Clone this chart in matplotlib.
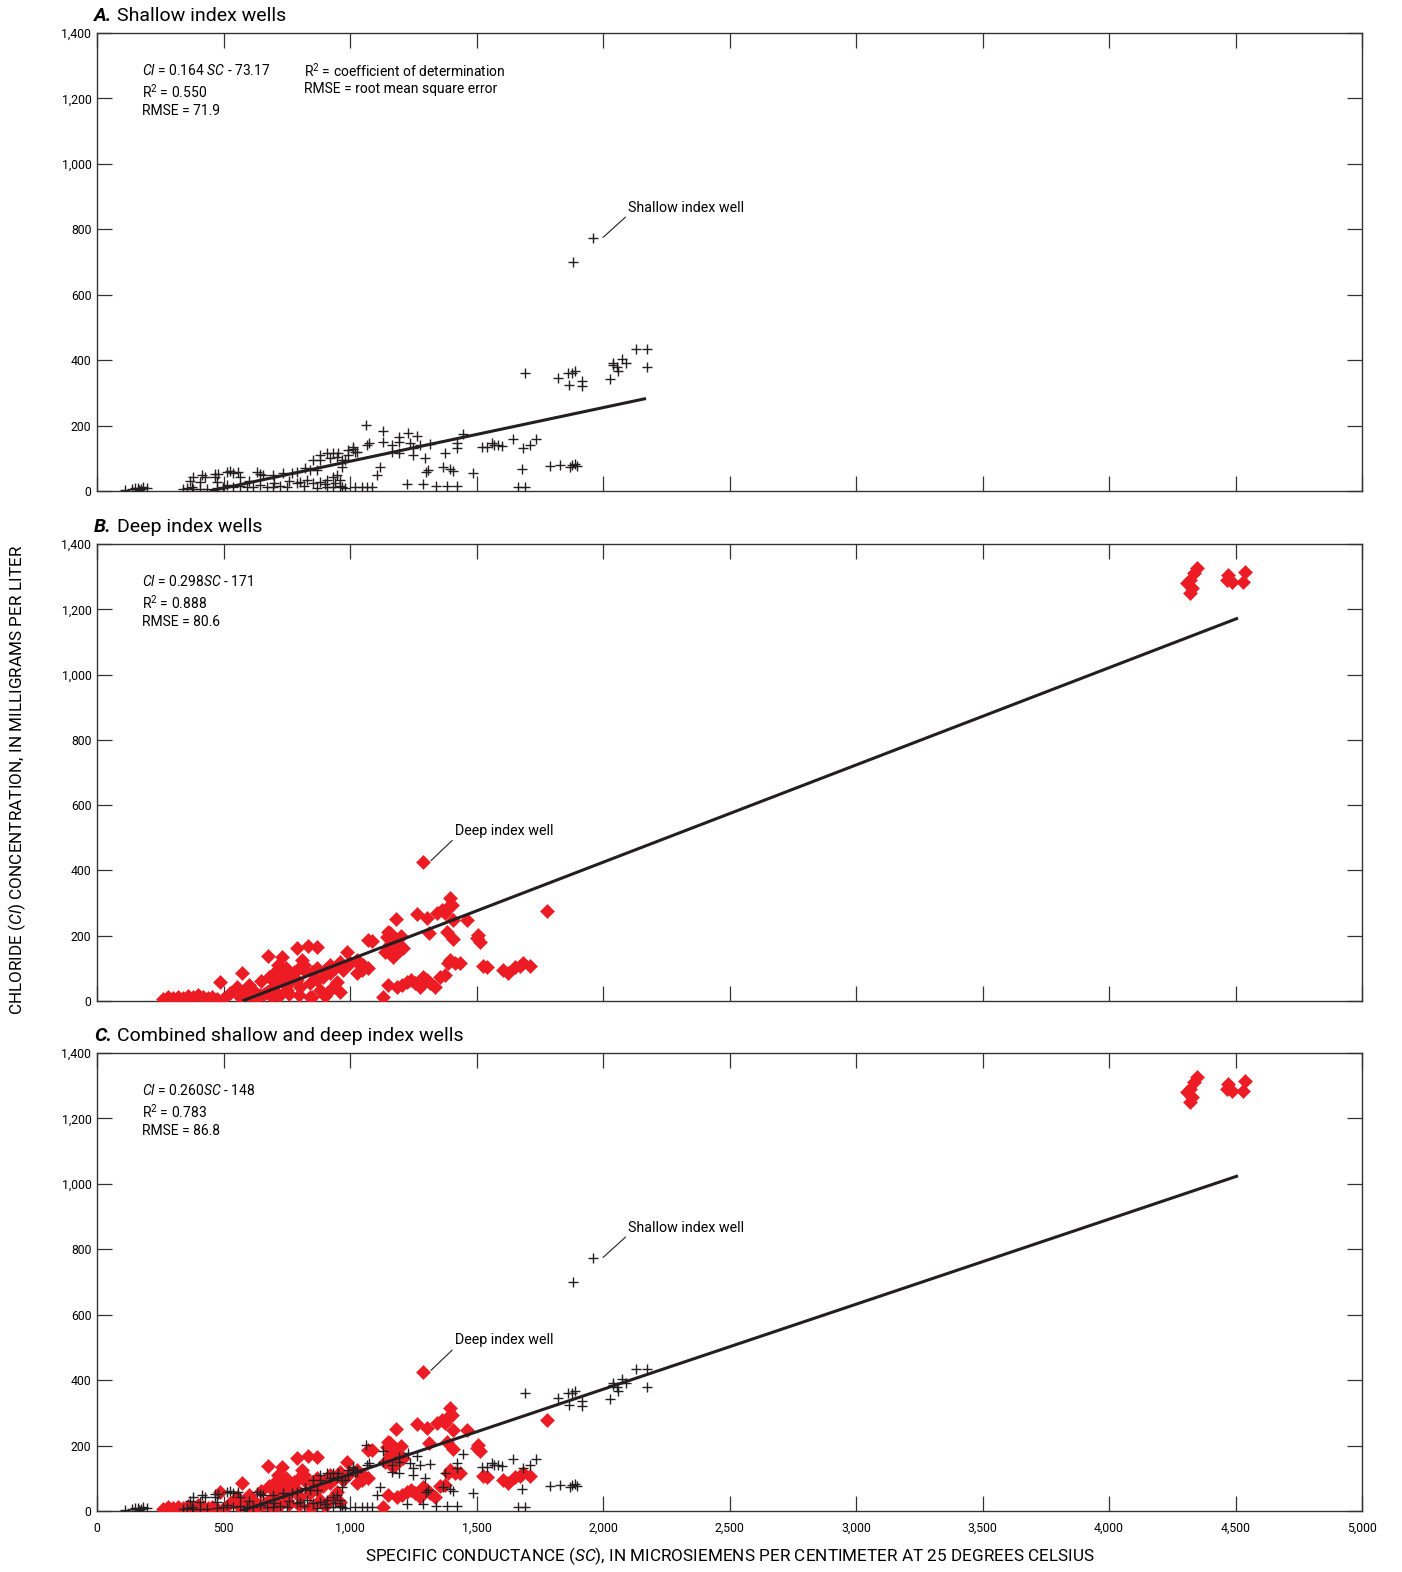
import matplotlib
matplotlib.use("Agg")
import matplotlib.pyplot as plt
from matplotlib.ticker import FuncFormatter, MultipleLocator
import numpy as np

plt.rcParams['font.family'] = ['Roboto', 'DejaVu Sans']
plt.rcParams['mathtext.fontset'] = 'custom'
plt.rcParams['mathtext.rm'] = 'Roboto'
plt.rcParams['mathtext.it'] = 'Roboto:italic'
plt.rcParams['mathtext.bf'] = 'Roboto:bold'

# Shallow index wells: specific conductance (uS/cm) and chloride (mg/L)
shallow_sc = [1960, 1881,
    1692, 1823, 1863, 1876, 1889, 1866, 1916, 1916, 2028, 2038, 2054, 2061, 2074, 2091, 2041, 2130, 2173, 2173,
    1063, 1132, 1076, 1066, 1132, 1165, 1195, 1195, 1231, 1263, 1237, 1277, 1165, 1195, 1248, 1248, 1316, 1296,
    1375, 1422, 1422, 1445, 1119, 1108, 1300, 1310, 1366, 1395, 1408, 1487, 1224, 1287, 1340, 1385, 1422,
    1020, 1046, 1066, 1086, 1520, 1540, 1560, 1569, 1586, 1599, 1643, 1682, 1711, 1735, 1678, 1665, 1692,
    1791, 1830, 1876, 1889, 1898, 1870, 1013, 993, 1020, 980, 967, 967,
    111, 137, 150, 163, 173, 183, 196, 165, 368, 381, 414, 427, 466, 480, 513, 526, 539, 559, 565,
    631, 644, 658, 697, 734, 769, 789, 822, 842, 868, 855, 881, 908, 934, 954, 921, 947, 967, 993, 1013, 1026, 881,
    341, 354, 381, 407, 434, 473, 499, 513, 539, 565, 592, 618, 644, 671, 697, 723, 750, 789, 802, 829, 855,
    881, 908, 934, 947, 960, 908, 934, 960, 980, 466, 473, 407, 374,
    600, 700, 760, 820, 870, 900, 940]
shallow_cl = [773, 700,
    360, 345, 360, 362, 368, 324, 337, 321, 341, 392, 380, 368, 403, 390, 385, 433, 433, 380,
    202, 184, 146, 141, 151, 141, 166, 151, 178, 168, 146, 141, 120, 115, 130, 110, 143, 100,
    115, 146, 130, 174, 72, 49, 59, 64, 74, 66, 62, 56, 21, 21, 15, 15, 15,
    13, 13, 13, 13, 135, 135, 148, 141, 141, 138, 158, 130, 141, 158, 66, 13, 13,
    76, 79, 79, 82, 76, 74, 127, 110, 120, 95, 74, 13,
    2, 5, 8, 8, 5, 11, 8, 2, 31, 44, 49, 44, 52, 52, 59, 62, 54, 59, 44,
    59, 52, 49, 49, 56, 56, 59, 69, 64, 64, 95, 110, 117, 117, 117, 100, 105, 95, 125, 135, 120, 95,
    5, 8, 5, 5, 5, 8, 11, 18, 11, 15, 11, 11, 18, 13, 11, 15, 11, 23, 28, 34, 23,
    28, 34, 44, 49, 34, 13, 11, 15, 8, 44, 28, 28, 13,
    30, 25, 30, 15, 8, 20, 25]

# Deep index wells
deep_sc = [262, 282, 302, 321, 341, 361, 381, 400, 420, 440, 453, 473, 499, 486, 572, 552, 526, 565, 592,
    677, 789, 835, 868, 809, 730, 717, 704, 747, 763, 822, 789, 736, 697, 671, 644, 710, 750, 802, 842, 868,
    894, 921, 881, 908, 934, 960, 947, 987, 1000, 1026, 1053, 1072, 842, 974, 1026,
    1086, 1158, 1182, 1263, 1303, 1342, 1362, 1389, 1395, 1402, 1375, 1409, 1461, 1314, 1382, 1409, 1500,
    1507, 1514, 1777, 1145, 1158, 1184, 1198, 1171, 1211, 1138, 1165, 1072, 1046, 1040, 1395, 1415, 1435,
    1389, 1527, 1540, 1606, 1626, 1652, 1685, 1711, 1672, 1129, 1152, 1184, 1204, 1224, 1243, 1257, 1290,
    1303, 1316, 1336, 1356, 1375, 1277,
    600, 620, 650, 680, 700, 720, 740, 760, 780, 800, 820, 850, 870, 900, 920, 940, 960, 980,
    600, 630, 660, 690, 720, 760, 800, 850, 900, 580,
    1180, 1190, 1160, 1150, 1200, 1175,
    1289,
    4347, 4336, 4320, 4307, 4327, 4320, 4472, 4465, 4538, 4531, 4485]
deep_cl = [5, 11, 8, 13, 8, 15, 11, 18, 11, 8, 13, 5, 5, 59, 87, 44, 24, 13, 34,
    138, 161, 168, 166, 126, 134, 110, 90, 100, 75, 93, 64, 54, 44, 28, 18, 24, 34, 44, 54, 64,
    75, 85, 34, 24, 44, 28, 59, 151, 116, 126, 110, 187, 13, 95, 85,
    185, 207, 250, 267, 253, 269, 279, 287, 315, 294, 269, 248, 248, 209, 212, 189, 192,
    202, 182, 277, 197, 166, 177, 156, 136, 161, 151, 182, 100, 95, 110, 126, 116, 117,
    116, 107, 103, 95, 85, 103, 117, 107, 107, 13, 49, 44, 49, 59, 64, 54, 72,
    64, 54, 42, 75, 80, 43,
    50, 30, 60, 75, 60, 80, 70, 55, 90, 100, 110, 90, 100, 95, 110, 100, 120, 105,
    15, 10, 20, 12, 15, 20, 18, 12, 15, 25,
    190, 165, 175, 210, 200, 150,
    426,
    1326, 1310, 1290, 1280, 1264, 1249, 1305, 1290, 1313, 1285, 1285]

# Regression fits: slope, intercept, max SC, R2, RMSE
fit_slope = [0.164, 0.298, 0.260]
fit_intercept = [-73.17, -171, -148]
fit_sc_max = [2170, 4510, 4510]
eq_labels = [r"$\mathit{Cl}$ = 0.164 $\mathit{SC}$ - 73.17",
             r"$\mathit{Cl}$ = 0.298$\mathit{SC}$ - 171",
             r"$\mathit{Cl}$ = 0.260$\mathit{SC}$ - 148"]
r2_labels = ["0.550", "0.888", "0.783"]
rmse_labels = ["71.9", "80.6", "86.8"]
panel_letters = ["A.", "B.", "C."]
panel_titles = ["Shallow index wells", "Deep index wells", "Combined shallow and deep index wells"]

RED = '#ED1C24'
INK = '#231F20'

fig = plt.figure(figsize=(14.02, 15.72), dpi=100)
W, H = 1402, 1572
boxes = [(33, 491), (544, 1001), (1053, 1511)]
left, right = 97, 1362

def comma(v, pos):
    return f"{int(v):,}"

axes = []
for i, (top, bot) in enumerate(boxes):
    ax = fig.add_axes([left / W, 1 - bot / H, (right - left) / W, (bot - top) / H])
    axes.append(ax)
    ax.set_xlim(0, 5000)
    ax.set_ylim(0, 1400)
    ax.xaxis.set_major_locator(MultipleLocator(500))
    ax.yaxis.set_major_locator(MultipleLocator(200))
    ax.yaxis.set_major_formatter(FuncFormatter(comma))
    ax.xaxis.set_major_formatter(FuncFormatter(comma))
    ax.tick_params(direction='in', length=11, width=0.9, top=True, right=True,
                   labelsize=8.8, color='#333333', pad=4)
    ax.tick_params(axis='x', pad=8)
    if i < 2:
        ax.tick_params(labelbottom=False)
    for s in ax.spines.values():
        s.set_linewidth(1.0)
        s.set_color('#333333')

    show_shallow = i in (0, 2)
    show_deep = i in (1, 2)
    if show_deep:
        ax.plot(deep_sc, deep_cl, linestyle='none', marker='D', ms=6.8,
                mfc=RED, mec=RED, mew=0.4, zorder=3)
    if show_shallow:
        ax.plot(shallow_sc, shallow_cl, linestyle='none', marker='+', ms=7.5,
                mec=INK, mew=1.0, zorder=4)

    x0 = -fit_intercept[i] / fit_slope[i]
    xs = np.array([x0, fit_sc_max[i]])
    ax.plot(xs, fit_slope[i] * xs + fit_intercept[i], color=INK, lw=2.2, zorder=5,
            solid_capstyle='butt')

    ax.text(0.0355, 0.918, eq_labels[i], transform=ax.transAxes, fontsize=10,
            va='center', ha='left')
    ax.text(0.0355, 0.872, r"R$^2$ = " + r2_labels[i], transform=ax.transAxes,
            fontsize=10, va='center', ha='left')
    ax.text(0.0355, 0.829, "RMSE = " + rmse_labels[i], transform=ax.transAxes,
            fontsize=10, va='center', ha='left')

    fig.text(left / W - 0.002, 1 - (top - 17) / H, panel_letters[i],
             fontsize=14, fontweight='bold', fontstyle='italic', va='center', ha='left')
    fig.text(left / W + 0.0145, 1 - (top - 17) / H, panel_titles[i],
             fontsize=14, va='center', ha='left')

axes[0].text(0.164, 0.918, r"R$^2$ = coefficient of determination", transform=axes[0].transAxes,
             fontsize=10, va='center', ha='left')
axes[0].text(0.164, 0.877, "RMSE = root mean square error", transform=axes[0].transAxes,
             fontsize=10, va='center', ha='left')

# Leader-line callouts
def callout(ax, text, xy, xytext):
    ax.annotate(text, xy=xy, xytext=xytext, fontsize=10.3, ha='left', va='bottom',
                arrowprops=dict(arrowstyle='-', color=INK, lw=0.8, shrinkA=0, shrinkB=0,
                                relpos=(0.0, 0.0)))

callout(axes[0], "Shallow index well", (2000, 775), (2100, 845))
callout(axes[2], "Shallow index well", (2000, 775), (2100, 845))
callout(axes[1], "Deep index well", (1320, 430), (1415, 500))
callout(axes[2], "Deep index well", (1320, 430), (1415, 500))

fig.text(17 / W, 1 - 780 / H,
         r"CHLORIDE ($\mathit{Cl}$) CONCENTRATION, IN MILLIGRAMS PER LITER",
         rotation=90, fontsize=12.3, va='center', ha='center')
fig.text(730 / W, 1 - 1556 / H,
         r"SPECIFIC CONDUCTANCE ($\mathit{SC}$), IN MICROSIEMENS PER CENTIMETER AT 25 DEGREES CELSIUS",
         fontsize=12.3, va='center', ha='center')

fig.savefig("out.png", dpi=100)
